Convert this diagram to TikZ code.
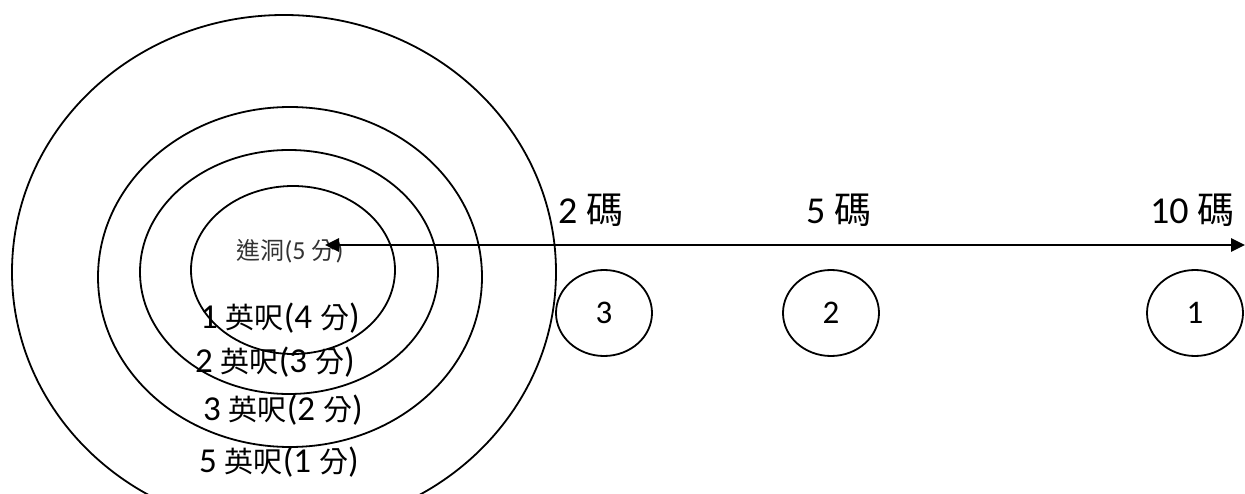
\documentclass[tikz,border=0pt]{standalone}
\usepackage{fontspec}
\setmainfont{Carlito}
\newfontfamily\cjkfont{Noto Sans CJK TC}
\usetikzlibrary{arrows.meta,shapes.geometric}
\newcommand\zhring[1]{{\cjkfont\fontsize{29}{31}\selectfont #1}}
\newcommand\zhyard[1]{{\cjkfont\fontsize{37}{40}\selectfont #1}}
\newcommand\zhsmall[1]{{\cjkfont\fontsize{24}{26}\selectfont #1}}
\tikzset{
  ring/.style={draw=black, line width=1.8pt},
  ringlabel/.style={anchor=base, inner sep=0pt, font=\fontsize{35}{38}\selectfont},
  holelabel/.style={anchor=base, inner sep=0pt, font=\fontsize{26}{28}\selectfont, text=black!80},
  yardlabel/.style={anchor=base west, inner sep=0pt, font=\fontsize{38}{40}\selectfont},
  ballnode/.style={ellipse, draw=black, line width=1.8pt, minimum width=96pt, minimum height=86pt, inner sep=0pt, font=\fontsize{33}{35}\selectfont},
  dblarrow/.style={line width=2.6pt, {Triangle[length=14pt,width=13pt]}-{Triangle[length=14pt,width=13pt]}}
}
\begin{document}
\begin{tikzpicture}[x=1pt,y=-1pt]
\useasboundingbox (0,0) rectangle (1245,494);
\clip (0,0) rectangle (1245,494);
% concentric target rings
\draw[ring] (284,272) ellipse [x radius=272, y radius=257];
\draw[ring] (290,277) ellipse [x radius=192, y radius=170];
\draw[ring] (289,272) ellipse [x radius=149, y radius=122];
\draw[ring] (293,270) ellipse [x radius=102, y radius=84];
% ring labels
\node[holelabel] (hole) at (290,260) {\zhsmall{進洞}(5 \zhsmall{分})};
\node[ringlabel] (r1) at (280,328) {1 \zhring{英呎}(4 \zhring{分})};
\node[ringlabel] (r2) at (275,372) {2 \zhring{英呎}(3 \zhring{分})};
\node[ringlabel] (r3) at (283,420) {3 \zhring{英呎}(2 \zhring{分})};
\node[ringlabel] (r5) at (279,472) {5 \zhring{英呎}(1 \zhring{分})};
% distance axis
\coordinate (tip) at (325,245);
\coordinate (far) at (1245,245);
\draw[dblarrow] (tip) -- (far);
\node[yardlabel] (y2) at (558,224) {2 \zhyard{碼}};
\node[yardlabel] (y5) at (806,224) {5 \zhyard{碼}};
\node[yardlabel] (y10) at (1150,224) {10 \zhyard{碼}};
% balls
\node[ballnode] (b3) at (604,313) {3};
\node[ballnode] (b2) at (831,313) {2};
\node[ballnode] (b1) at (1195,313) {1};
\end{tikzpicture}
\end{document}
